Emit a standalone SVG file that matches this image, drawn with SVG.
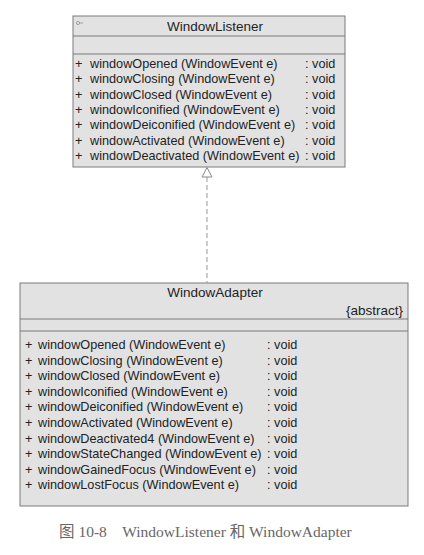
<svg xmlns="http://www.w3.org/2000/svg" width="424" height="555" viewBox="0 0 424 555">
<style>
.box{fill:#e2e2e2;stroke:#7a7a7a;stroke-width:1}
.sep{stroke:#7a7a7a;stroke-width:1}
.t{font-family:"Liberation Sans",Arial,sans-serif;font-size:12.7px;fill:#222}
.h{font-family:"Liberation Sans",Arial,sans-serif;font-size:13.5px;fill:#222}
.cap{font-family:"Liberation Serif","Noto Sans CJK SC",serif;font-size:15.5px;fill:#666}
</style>
<rect width="424" height="555" fill="#fff"/>
<g id="WindowListener">
<rect class="box" x="73" y="16" width="272" height="151"/>
<line class="sep" x1="73" y1="36" x2="345" y2="36"/>
<line class="sep" x1="73" y1="54" x2="345" y2="54"/>
<circle cx="78" cy="23" r="1.6" fill="none" stroke="#888" stroke-width="0.7"/>
<line x1="79.6" y1="23" x2="83" y2="23" stroke="#888" stroke-width="0.7"/>
<text class="h" x="215" y="31" text-anchor="middle">WindowListener</text>
<g class="t">
<text x="75" y="68">+</text><text x="90" y="68">windowOpened (WindowEvent e)</text><text x="305" y="68">: void</text>
<text x="75" y="83.3">+</text><text x="90" y="83.3">windowClosing (WindowEvent e)</text><text x="305" y="83.3">: void</text>
<text x="75" y="98.6">+</text><text x="90" y="98.6">windowClosed (WindowEvent e)</text><text x="305" y="98.6">: void</text>
<text x="75" y="113.9">+</text><text x="90" y="113.9">windowIconified (WindowEvent e)</text><text x="305" y="113.9">: void</text>
<text x="75" y="129.2">+</text><text x="90" y="129.2">windowDeiconified (WindowEvent e)</text><text x="305" y="129.2">: void</text>
<text x="75" y="144.5">+</text><text x="90" y="144.5">windowActivated (WindowEvent e)</text><text x="305" y="144.5">: void</text>
<text x="75" y="159.8">+</text><text x="90" y="159.8">windowDeactivated (WindowEvent e)</text><text x="305" y="159.8">: void</text>
</g>
</g>
<g id="WindowAdapter">
<rect class="box" x="20" y="283" width="388" height="223"/>
<line class="sep" x1="20" y1="319" x2="408" y2="319"/>
<line class="sep" x1="20" y1="331" x2="408" y2="331"/>
<text class="h" x="215" y="297" text-anchor="middle">WindowAdapter</text>
<text class="h" x="403" y="315" text-anchor="end">{abstract}</text>
<g class="t">
<text x="25" y="349">+</text><text x="38" y="349">windowOpened (WindowEvent e)</text><text x="267" y="349">: void</text>
<text x="25" y="364.6">+</text><text x="38" y="364.6">windowClosing (WindowEvent e)</text><text x="267" y="364.6">: void</text>
<text x="25" y="380.2">+</text><text x="38" y="380.2">windowClosed (WindowEvent e)</text><text x="267" y="380.2">: void</text>
<text x="25" y="395.8">+</text><text x="38" y="395.8">windowIconified (WindowEvent e)</text><text x="267" y="395.8">: void</text>
<text x="25" y="411.4">+</text><text x="38" y="411.4">windowDeiconified (WindowEvent e)</text><text x="267" y="411.4">: void</text>
<text x="25" y="427">+</text><text x="38" y="427">windowActivated (WindowEvent e)</text><text x="267" y="427">: void</text>
<text x="25" y="442.6">+</text><text x="38" y="442.6">windowDeactivated4 (WindowEvent e)</text><text x="267" y="442.6">: void</text>
<text x="25" y="458.2">+</text><text x="38" y="458.2">windowStateChanged (WindowEvent e)</text><text x="267" y="458.2">: void</text>
<text x="25" y="473.8">+</text><text x="38" y="473.8">windowGainedFocus (WindowEvent e)</text><text x="267" y="473.8">: void</text>
<text x="25" y="489.4">+</text><text x="38" y="489.4">windowLostFocus (WindowEvent e)</text><text x="267" y="489.4">: void</text>
</g>
</g>
<g id="connectors">
<line x1="207" y1="177" x2="207" y2="283" stroke="#999" stroke-width="1" stroke-dasharray="5,3"/>
<polygon points="207,167.5 202,177 212,177" fill="#fff" stroke="#888" stroke-width="1"/>
</g>
<text class="cap" x="59" y="537">图 10-8　WindowListener 和 WindowAdapter</text>
</svg>
